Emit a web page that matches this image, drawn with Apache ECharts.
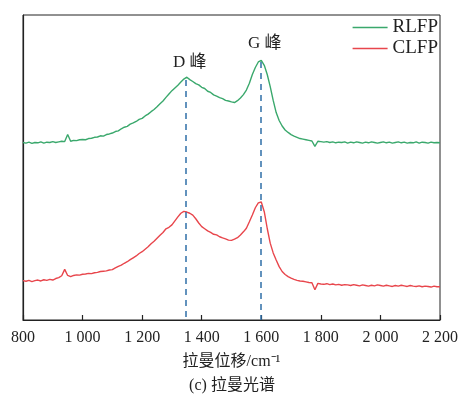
<!DOCTYPE html>
<html>
<head>
<meta charset="utf-8">
<script src="https://cdn.jsdelivr.net/npm/echarts@6/dist/echarts.min.js"></script>
<style>
  html, body { margin: 0; padding: 0; background: #fff; }
  #main { width: 464px; height: 394px; }
</style>
</head>
<body>
<div id="main"></div>
<script>
// 拉曼位移 (cm-1), 10 cm-1 步长
var shift = [];
for (var s = 800; s <= 2200; s += 10) shift.push(s);

var xTicks = [800, 1000, 1200, 1400, 1600, 1800, 2000, 2200];

// RLFP 强度（读图估计，相对单位）
var rlfp = [
  58.2, 58.0, 58.3, 57.9, 58.2, 58.1, 58.4, 58.0, 58.3, 58.2,
  58.5, 58.2, 58.4, 58.6, 58.5, 60.8, 58.6, 58.9, 58.8, 59.1,
  59.2, 59.1, 59.5, 59.6, 59.9, 60.0, 60.4, 60.3, 60.8, 61.0,
  61.3, 61.8, 62.0, 62.7, 63.2, 63.5, 64.2, 64.6, 65.1, 65.8,
  66.1, 66.9, 67.5, 68.3, 69.0, 69.9, 70.9, 71.8, 73.0, 74.1,
  75.2, 76.1, 77.0, 78.0, 79.0, 79.6, 78.8, 78.2, 77.5, 77.1,
  76.3, 75.9, 75.0, 74.6, 73.8, 73.4, 72.9, 72.6, 72.0, 71.8,
  71.5, 71.3, 71.9, 72.8, 73.9, 75.4, 77.6, 80.5, 82.8, 84.6,
  85.1, 83.5, 80.5, 76.5, 72.0, 68.0, 65.4, 63.6, 62.3, 61.5,
  60.8, 60.3, 59.9, 59.5, 59.3, 59.1, 58.9, 58.7, 56.9, 58.6,
  58.5, 58.3, 58.5, 58.2, 58.4, 58.1, 58.3, 58.2, 58.4, 58.0,
  58.3, 58.1, 58.4, 58.2, 58.0, 58.3, 58.1, 58.4, 58.2, 58.0,
  58.2, 58.4, 58.1, 58.3, 58.0, 58.2, 58.4, 58.1, 58.3, 58.0,
  58.2, 58.1, 58.4, 58.0, 58.3, 58.2, 58.0, 58.3, 58.1, 58.2,
  58.1
];

// CLFP 强度（读图估计，相对单位）
var clfp = [
  12.9, 12.7, 13.0, 12.6, 12.9, 13.1, 12.8, 13.2, 13.0, 13.3,
  13.1, 13.6, 13.9, 14.5, 16.6, 14.6, 14.2, 14.6, 14.8, 14.7,
  15.0, 15.1, 15.3, 15.2, 15.5, 15.6, 15.9, 16.0, 16.1, 16.4,
  16.5, 17.1, 17.6, 18.0, 18.6, 19.1, 19.8, 20.4, 21.0, 21.8,
  22.4, 23.2, 24.0, 25.0, 25.8, 26.8, 27.8, 28.7, 29.9, 30.4,
  31.2, 32.5, 33.8, 35.0, 35.6, 35.4, 35.0, 34.4, 33.2, 31.8,
  30.6, 29.9, 29.2, 28.7, 28.1, 27.9, 27.3, 26.9, 26.6, 26.2,
  26.1, 26.5, 27.0, 27.9, 28.9, 30.1, 32.2, 34.4, 36.8, 38.4,
  38.7, 35.5, 30.0, 25.2, 22.0, 19.7, 17.5, 15.9, 14.9, 14.2,
  13.7, 13.3, 13.0, 12.8, 12.7, 12.5, 12.3, 12.2, 9.9, 12.0,
  11.8, 11.7, 11.9, 11.6, 11.8, 11.5, 11.7, 11.4, 11.6, 11.5,
  11.3, 11.6, 11.4, 11.2, 11.5, 11.3, 11.1, 11.4, 11.2, 11.5,
  11.3, 11.1, 11.4, 11.2, 11.0, 11.3, 11.1, 11.4, 11.2, 11.0,
  11.3, 11.1, 11.0, 11.2, 10.9, 11.1, 11.0, 10.8, 11.1, 10.9,
  10.9
];

// 特征峰位置
var peakNames = ['D 峰', 'G 峰'];
var peakPos = [1345, 1597];
var peakTop = [78.7, 84.6];
var labelPos = [[1360, 84.3], [1612, 90.8]];

function pairs(ys) {
  return shift.map(function (x, i) { return [x, ys[i]]; });
}

var serif = '"Liberation Serif", "Noto Sans CJK SC", serif';

var dom = document.getElementById('main');
var myChart = echarts.init(dom);

var option = {
  backgroundColor: '#fff',
  animation: false,
  grid: {
    left: 23,
    right: 24,
    top: 15,
    bottom: 74,
    show: true,
    borderColor: '#222',
    borderWidth: 1
  },
  legend: {
    orient: 'vertical',
    right: 26,
    top: 18,
    padding: 0,
    itemGap: 2,
    itemWidth: 35,
    itemHeight: 18,
    icon: 'path://M0,9 L35,9 L35,10.5 L0,10.5 Z',
    textStyle: { fontFamily: serif, fontSize: 19, color: '#222', padding: [0, 0, 0, 0] },
    data: ['RLFP', 'CLFP']
  },
  xAxis: {
    type: 'value',
    min: 800,
    max: 2200,
    interval: 200,
    name: '拉曼位移/cm⁻¹',
    nameLocation: 'middle',
    nameGap: 34,
    nameTextStyle: { fontFamily: serif, fontSize: 16, color: '#222' },
    axisLine: { lineStyle: { color: '#222', width: 1.2 } },
    axisTick: { inside: true, length: 5, lineStyle: { color: '#222', width: 1.2 } },
    axisLabel: {
      margin: 10,
      fontFamily: serif,
      fontSize: 16,
      color: '#222',
      formatter: function (v) {
        return xTicks.indexOf(v) < 0 ? '' :
          String(v).replace(/\B(?=(\d{3})+(?!\d))/g, ' ');
      }
    },
    splitLine: { show: false }
  },
  yAxis: {
    type: 'value',
    min: 0,
    max: 100,
    axisLine: { show: true, lineStyle: { color: '#222', width: 1.2 } },
    axisTick: { show: false },
    axisLabel: { show: false },
    splitLine: { show: false }
  },
  graphic: [{
    type: 'text',
    left: 'center',
    top: 378,
    style: { text: '(c) 拉曼光谱', font: '16px ' + serif, fill: '#222' }
  }],
  series: [
    {
      name: 'RLFP',
      type: 'line',
      data: pairs(rlfp),
      showSymbol: false,
      symbol: 'none',
      color: '#3aa86c',
      lineStyle: { width: 1.4, color: '#3aa86c' },
      z: 3,
      markLine: {
        silent: true,
        symbol: 'none',
        label: { show: false },
        lineStyle: { type: [6, 5], color: '#2f6fa8', width: 1.5 },
        data: peakPos.map(function (p, i) {
          return [{ coord: [p, peakTop[i]] }, { coord: [p, 0] }];
        })
      },
      markPoint: {
        silent: true,
        symbol: 'rect',
        symbolSize: 1,
        itemStyle: { color: 'rgba(0,0,0,0)' },
        label: {
          show: true,
          position: 'inside',
          fontFamily: serif,
          fontSize: 17,
          color: '#222',
          formatter: function (p) { return p.name; }
        },
        data: peakNames.map(function (n, i) {
          return { name: n, coord: labelPos[i] };
        })
      }
    },
    {
      name: 'CLFP',
      type: 'line',
      data: pairs(clfp),
      showSymbol: false,
      symbol: 'none',
      color: '#e8464c',
      lineStyle: { width: 1.4, color: '#e8464c' },
      z: 3
    }
  ]
};

if (option && typeof option === 'object') {
  myChart.setOption(option, true);
}
</script>
</body>
</html>
